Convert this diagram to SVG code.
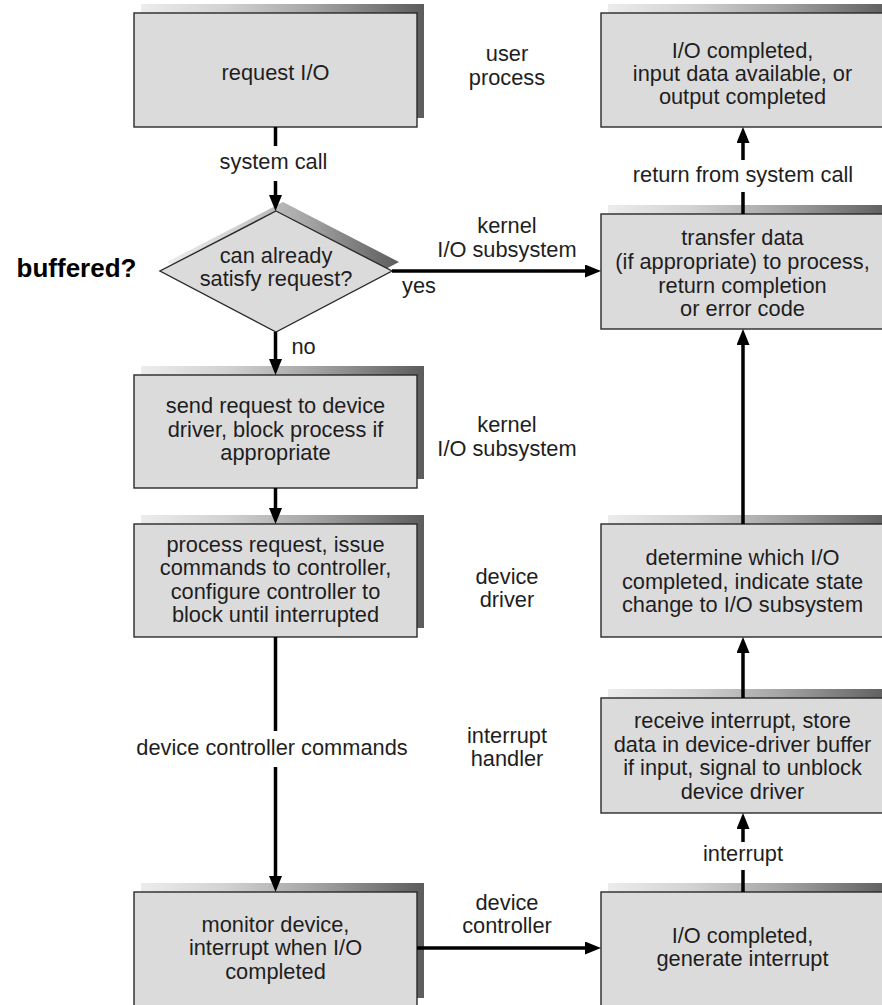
<svg xmlns="http://www.w3.org/2000/svg" width="882" height="1005" viewBox="0 0 882 1005">
  <style>
    .box { fill: #dcdbdc; stroke: #2a2a2a; stroke-width: 1.4; }
    .shadow { fill: url(#shade); }
    text { font-family: "Liberation Sans", Arial, Helvetica, sans-serif; font-size: 21.8px; fill: #1e1e1e; text-anchor: middle; }
    .bold { font-weight: bold; font-size: 26px; fill: #000; }
    .conn { fill: none; stroke: #000; stroke-width: 3.5; }
  </style>
  <defs>
    <linearGradient id="shade" x1="0" y1="0" x2="1" y2="0">
      <stop offset="0" stop-color="#ececec"/>
      <stop offset="0.3" stop-color="#d2d2d2"/>
      <stop offset="0.6" stop-color="#a6a6a6"/>
      <stop offset="1" stop-color="#5c5c5c"/>
    </linearGradient>
    <marker id="arrow" markerUnits="userSpaceOnUse" markerWidth="17" markerHeight="14" refX="10" refY="6.5" orient="auto">
      <path d="M0,0 L16,6.5 L0,13 z" fill="#000"/>
    </marker>
  </defs>

  <!-- left column -->
  <g id="request-io">
    <rect class="shadow" x="141" y="4" width="283" height="114"/>
    <rect class="box" x="134" y="13" width="283" height="114"/>
    <text x="275.5" y="80">request I/O</text>
  </g>

  <g id="can-satisfy">
    <polygon class="shadow" points="283,202 399,262 283,323 167,262"/>
    <polygon class="box" points="276,211 392,271 276,332 160,271"/>
    <text x="276" y="263">can already</text>
    <text x="276" y="286">satisfy request?</text>
  </g>

  <g id="send-request">
    <rect class="shadow" x="141" y="366" width="283" height="113"/>
    <rect class="box" x="134" y="375" width="283" height="113"/>
    <text x="275.5" y="413">send request to device</text>
    <text x="275.5" y="436.5">driver, block process if</text>
    <text x="275.5" y="460">appropriate</text>
  </g>

  <g id="process-request">
    <rect class="shadow" x="141" y="515" width="283" height="113"/>
    <rect class="box" x="134" y="524" width="283" height="113"/>
    <text x="275.5" y="551.5">process request, issue</text>
    <text x="275.5" y="575">commands to controller,</text>
    <text x="275.5" y="598.5">configure controller to</text>
    <text x="275.5" y="622">block until interrupted</text>
  </g>

  <g id="monitor-device">
    <rect class="shadow" x="141" y="883" width="283" height="115"/>
    <rect class="box" x="134" y="892" width="283" height="115"/>
    <text x="275.5" y="931.5">monitor device,</text>
    <text x="275.5" y="955">interrupt when I/O</text>
    <text x="275.5" y="978.5">completed</text>
  </g>

  <!-- right column -->
  <g id="io-completed-top">
    <rect class="shadow" x="608" y="4" width="283" height="114"/>
    <rect class="box" x="601" y="13" width="283" height="114"/>
    <text x="742.5" y="57.5">I/O completed,</text>
    <text x="742.5" y="80.5">input data available, or</text>
    <text x="742.5" y="103.5">output completed</text>
  </g>

  <g id="transfer-data">
    <rect class="shadow" x="608" y="205" width="283" height="115"/>
    <rect class="box" x="601" y="214" width="283" height="115"/>
    <text x="742.5" y="245">transfer data</text>
    <text x="742.5" y="269">(if appropriate) to process,</text>
    <text x="742.5" y="292.5">return completion</text>
    <text x="742.5" y="316">or error code</text>
  </g>

  <g id="determine-io">
    <rect class="shadow" x="608" y="515" width="283" height="113"/>
    <rect class="box" x="601" y="524" width="283" height="113"/>
    <text x="742.5" y="565">determine which I/O</text>
    <text x="742.5" y="588.5">completed, indicate state</text>
    <text x="742.5" y="612">change to I/O subsystem</text>
  </g>

  <g id="receive-interrupt">
    <rect class="shadow" x="608" y="689" width="283" height="115"/>
    <rect class="box" x="601" y="698" width="283" height="115"/>
    <text x="742.5" y="728">receive interrupt, store</text>
    <text x="742.5" y="751.5">data in device-driver buffer</text>
    <text x="742.5" y="775">if input, signal to unblock</text>
    <text x="742.5" y="798.5">device driver</text>
  </g>

  <g id="generate-interrupt">
    <rect class="shadow" x="608" y="883" width="283" height="115"/>
    <rect class="box" x="601" y="892" width="283" height="115"/>
    <text x="742.5" y="943">I/O completed,</text>
    <text x="742.5" y="966">generate interrupt</text>
  </g>

  <!-- layer labels -->
  <g id="layer-labels">
    <text x="507" y="61">user</text>
    <text x="507" y="85">process</text>
    <text x="507" y="233">kernel</text>
    <text x="507" y="257">I/O subsystem</text>
    <text x="507" y="432">kernel</text>
    <text x="507" y="456">I/O subsystem</text>
    <text x="507" y="584">device</text>
    <text x="507" y="607">driver</text>
    <text x="507" y="743">interrupt</text>
    <text x="507" y="766">handler</text>
    <text x="507" y="910">device</text>
    <text x="507" y="933">controller</text>
  </g>

  <text class="bold" x="76.5" y="277">buffered?</text>

  <!-- connectors -->
  <g id="connectors">
    <path class="conn" d="M275.5,127 L275.5,146 M275.5,181 L275.5,205" marker-end="url(#arrow)"/>
    <path class="conn" d="M392,271 L595,271" marker-end="url(#arrow)"/>
    <path class="conn" d="M275.5,332 L275.5,369" marker-end="url(#arrow)"/>
    <path class="conn" d="M275.5,488 L275.5,518" marker-end="url(#arrow)"/>
    <path class="conn" d="M275.5,637 L275.5,731 M275.5,767 L275.5,886" marker-end="url(#arrow)"/>
    <path class="conn" d="M417,948 L595,948" marker-end="url(#arrow)"/>
    <path class="conn" d="M743,892 L743,870 M743,842 L743,819" marker-end="url(#arrow)"/>
    <path class="conn" d="M743,698 L743,643" marker-end="url(#arrow)"/>
    <path class="conn" d="M743,524 L743,335" marker-end="url(#arrow)"/>
    <path class="conn" d="M743,214 L743,192 M743,160 L743,133" marker-end="url(#arrow)"/>
  </g>

  <!-- connector labels -->
  <g id="connector-labels">
    <text x="273.5" y="169">system call</text>
    <text x="303.5" y="354">no</text>
    <text x="419" y="293">yes</text>
    <text x="272" y="755">device controller commands</text>
    <text x="743" y="182">return from system call</text>
    <text x="743" y="861">interrupt</text>
  </g>
</svg>
